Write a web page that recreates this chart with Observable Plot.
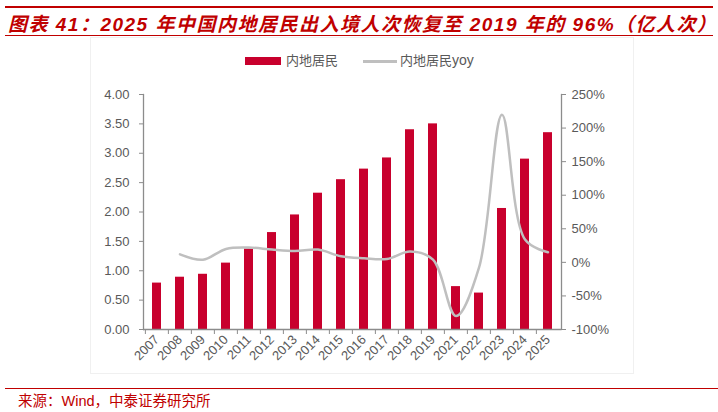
<!DOCTYPE html>
<html><head><meta charset="utf-8">
<script src="https://cdn.jsdelivr.net/npm/d3@7"></script>
<script src="https://cdn.jsdelivr.net/npm/@observablehq/plot@0.6"></script>
<style>
html,body{margin:0;padding:0;background:#fff;}
#wrap{position:relative;width:718px;height:412px;overflow:hidden;font-family:"Liberation Sans",Arial,sans-serif;}
#topline{position:absolute;left:5px;top:6px;width:708px;height:2px;background:#C00000;}
#title{position:absolute;left:8px;top:9px;font-family:"Liberation Sans","Noto Sans CJK SC",sans-serif;font-weight:bold;font-style:italic;font-size:19px;letter-spacing:1.5px;color:#C00000;white-space:nowrap;}
#subline{position:absolute;left:5px;top:35px;width:708px;height:1px;background:#C00000;}
#box{position:absolute;left:90px;top:37px;width:542px;height:335px;border:1px solid #f0f0f0;}
#legend{position:absolute;top:52px;left:0;width:718px;font-size:13px;color:#595959;font-family:"Noto Sans CJK SC",sans-serif;}
#legend span{position:absolute;white-space:nowrap;}
#chart{position:absolute;left:0;top:60px;}
#footline{position:absolute;left:5px;top:388px;width:713px;height:1px;background:#C00000;}
#foot{position:absolute;left:18px;top:389px;font-size:14.5px;color:#C00000;font-family:"Noto Sans CJK SC",sans-serif;}
#foot .w{font-family:"Liberation Sans",Arial,sans-serif;}
</style></head>
<body><div id="wrap">
<div id="topline"></div>
<div id="title">图表 41：2025 年中国内地居民出入境人次恢复至 2019 年的 96%（亿人次）</div>
<div id="subline"></div>
<div id="box"></div>
<div id="legend">
  <span style="left:245px;top:5px;width:36px;height:8px;background:#C8002D;"></span>
  <span style="left:286px;top:-2px;">内地居民</span>
  <span style="left:363px;top:8px;width:34px;height:3px;background:#BFBFBF;"></span>
  <span style="left:400px;top:-2px;">内地居民<span style="position:static;font-family:'Liberation Sans',Arial;font-size:14px;">yoy</span></span>
</div>
<div id="chart"></div>
<div id="footline"></div>
<div id="foot">来源：<span class="w">Wind</span>，中泰证券研究所</div>
</div>
<script>
const years = ["2007","2008","2009","2010","2011","2012","2013","2014","2015","2016","2017","2018","2019","2021","2022","2023","2024","2025"];
const residents = [0.79,0.89,0.94,1.13,1.37,1.65,1.95,2.32,2.55,2.73,2.92,3.40,3.50,0.73,0.62,2.06,2.90,3.35];
const yoyYears = ["2008","2009","2010","2011","2012","2013","2014","2015","2016","2017","2018","2019","2021","2022","2023","2024","2025"];
const yoy = [12,4,20,22,19,17,19,9,6,5,16,4,-80,-8,220,34,15];
const leftTicks = [0,0.5,1,1.5,2,2.5,3,3.5,4];
const rightTicks = [-100,-50,0,50,100,150,200,250];

const toLeft = p => (p + 100) / 350 * 4;
const fromLeft = v => v / 4 * 350 - 100;

const bars = years.map((y, i) => ({year: y, value: residents[i]}));
const line = yoyYears.map((y, i) => ({year: y, value: toLeft(yoy[i])}));

const W = 718, H = 320;
const step = (W - 143 - 157) / years.length;
const axisColor = "#8c8c8c";
const textColor = "#595959";

const chart = Plot.plot({
  width: W, height: H,
  marginLeft: 143, marginRight: 157, marginTop: 34, marginBottom: 51,
  style: {fontFamily: "'Liberation Sans', Arial, sans-serif", fontSize: "13px", color: textColor, background: "transparent"},
  x: {domain: years, paddingInner: 0.6, paddingOuter: 0.3, label: null},
  y: {domain: [0, 4], label: null},
  marks: [
    Plot.barY(bars, {x: "year", y: "value", fill: "#C8002D"}),
    Plot.line(line, {x: "year", y: "value", stroke: "#BFBFBF", strokeWidth: 2.5, curve: "catmull-rom"}),
    Plot.ruleY([0], {stroke: axisColor, strokeWidth: 1.3}),
    Plot.axisY({anchor: "left", ticks: leftTicks, tickFormat: d => d.toFixed(2), tickSize: 4, tickPadding: 10, stroke: axisColor, fill: textColor, label: null}),
    Plot.axisY({anchor: "right", ticks: rightTicks.map(toLeft), tickFormat: v => Math.round(fromLeft(v)) + "%", tickSize: 4, tickPadding: 6, stroke: axisColor, fill: textColor, label: null}),
    Plot.frame({anchor: "left", stroke: axisColor, strokeWidth: 1.3}),
    Plot.frame({anchor: "right", stroke: axisColor, strokeWidth: 1.3}),
    Plot.axisX({ticks: years, tickSize: 5, tickFormat: () => "", dx: -step / 2, stroke: axisColor, label: null}),
    Plot.axisX({ticks: years, tickSize: 0, tickRotate: -45, tickPadding: 8, fill: textColor, label: null})
  ]
});
document.getElementById("chart").appendChild(chart);
</script>
</body></html>
